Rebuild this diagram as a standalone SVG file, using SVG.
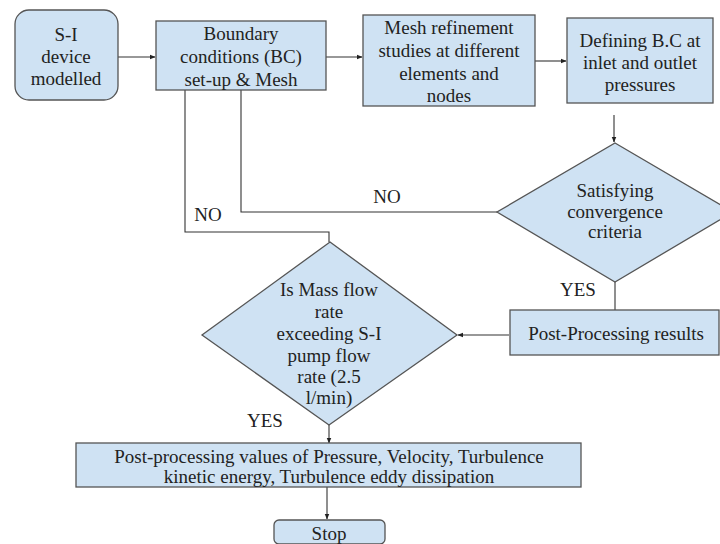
<svg xmlns="http://www.w3.org/2000/svg" width="720" height="544" viewBox="0 0 720 544">
<defs>
<style>
.n{fill:#cfe2f3;stroke:#555;stroke-width:1.3}
.t{font-family:"Liberation Serif","Times New Roman",serif;font-size:19px;fill:#222;text-anchor:middle}
.c{fill:none;stroke:#333;stroke-width:1.1}
</style>
<marker id="ah" viewBox="0 0 10 10" refX="9" refY="5" markerWidth="6" markerHeight="6" orient="auto" markerUnits="userSpaceOnUse">
<path d="M0,1 L10,5 L0,9 z" fill="#222"/>
</marker>
</defs>
<rect width="720" height="544" fill="#fff"/>
<g id="connectors">
<line class="c" x1="118" y1="57" x2="155" y2="57" marker-end="url(#ah)"/>
<line class="c" x1="326" y1="57" x2="362" y2="57" marker-end="url(#ah)"/>
<line class="c" x1="535" y1="61" x2="566" y2="61" marker-end="url(#ah)"/>
<line class="c" x1="614" y1="115" x2="614" y2="142" marker-end="url(#ah)"/>
<line class="c" x1="615" y1="282" x2="615" y2="310"/>
<line class="c" x1="509" y1="335" x2="458" y2="335" marker-end="url(#ah)"/>
<line class="c" x1="329" y1="425" x2="329" y2="443" marker-end="url(#ah)"/>
<line class="c" x1="327" y1="487" x2="327" y2="519" marker-end="url(#ah)"/>
<polyline class="c" points="185,90 185,232 329,232 329,242"/>
<polyline class="c" points="241,90 241,212 497,212"/>
<text class="t" x="387" y="203">NO</text>
<text class="t" x="208" y="221">NO</text>
<text class="t" x="578" y="296">YES</text>
<text class="t" x="265" y="427">YES</text>
</g>
<g id="start">
<rect class="n" x="15" y="10" width="103" height="90" rx="14"/>
<text class="t" x="66" y="41">S-I</text>
<text class="t" x="66" y="63">device</text>
<text class="t" x="66" y="85">modelled</text>
</g>
<g id="bc">
<rect class="n" x="156" y="21" width="170" height="69"/>
<text class="t" x="241" y="40">Boundary</text>
<text class="t" x="241" y="63">conditions (BC)</text>
<text class="t" x="241" y="86">set-up &amp; Mesh</text>
</g>
<g id="mesh">
<rect class="n" x="363" y="15" width="172" height="91"/>
<text class="t" x="449" y="34">Mesh refinement</text>
<text class="t" x="449" y="57">studies at different</text>
<text class="t" x="449" y="80">elements and</text>
<text class="t" x="449" y="102">nodes</text>
</g>
<g id="define">
<rect class="n" x="567" y="18" width="146" height="85"/>
<text class="t" x="640" y="47">Defining B.C at</text>
<text class="t" x="640" y="69">inlet and outlet</text>
<text class="t" x="640" y="91">pressures</text>
</g>
<g id="converge">
<polygon class="n" points="615,143 733,212 615,282 497,212"/>
<text class="t" x="615" y="197">Satisfying</text>
<text class="t" x="615" y="218">convergence</text>
<text class="t" x="615" y="238">criteria</text>
</g>
<g id="postresults">
<rect class="n" x="510" y="310" width="209" height="45"/>
<text class="t" x="616" y="340">Post-Processing results</text>
</g>
<g id="massflow">
<polygon class="n" points="330,242 457,335 329,425 202,335"/>
<text class="t" x="329" y="296">Is Mass flow</text>
<text class="t" x="329" y="318">rate</text>
<text class="t" x="329" y="340">exceeding S-I</text>
<text class="t" x="329" y="362">pump flow</text>
<text class="t" x="329" y="383">rate (2.5</text>
<text class="t" x="329" y="404">l/min)</text>
</g>
<g id="postvalues">
<rect class="n" x="76" y="443" width="505" height="44"/>
<text class="t" x="329" y="463">Post-processing values of Pressure, Velocity, Turbulence</text>
<text class="t" x="329" y="483">kinetic energy, Turbulence eddy dissipation</text>
</g>
<g id="stop">
<rect class="n" x="274" y="520" width="111" height="24" rx="5"/>
<text class="t" x="329" y="540">Stop</text>
</g>
</svg>
